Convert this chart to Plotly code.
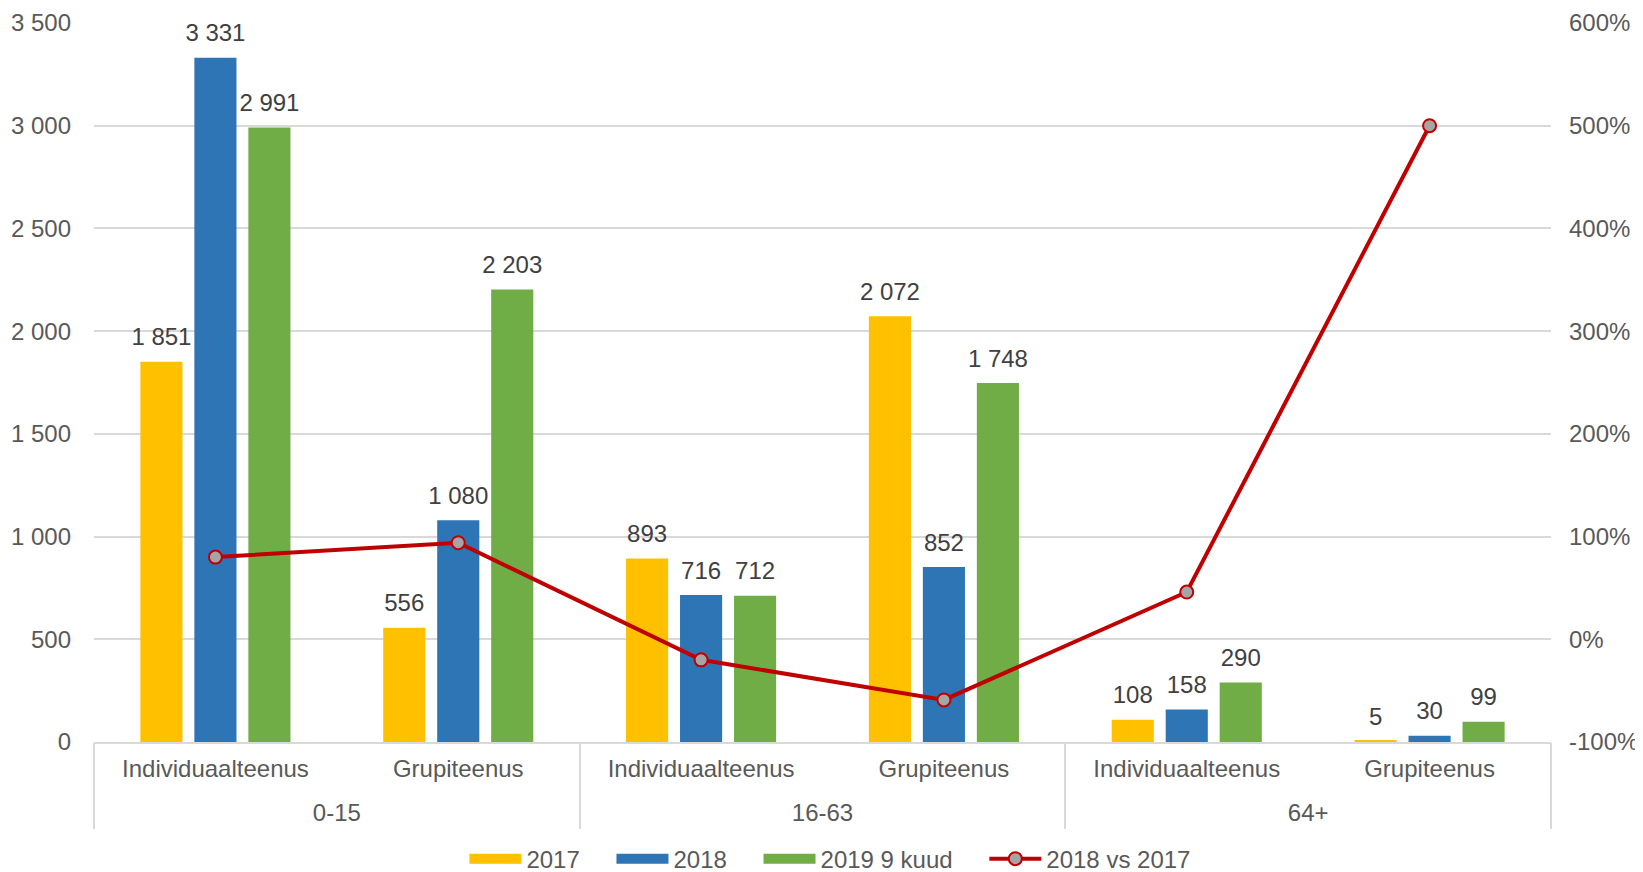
import plotly.graph_objects as go

age_groups = ["0-15", "0-15", "16-63", "16-63", "64+", "64+"]
services = ["Individuaalteenus", "Grupiteenus"] * 3
group_names = ["0-15", "16-63", "64+"]

y2017 = [1851, 556, 893, 2072, 108, 5]
y2018 = [3331, 1080, 716, 852, 158, 30]
y2019 = [2991, 2203, 712, 1748, 290, 99]
change_18_vs_17 = [0.80, 0.94, -0.20, -0.59, 0.46, 5.00]

pct_ticks = [-1, 0, 1, 2, 3, 4, 5, 6]
pct_labels = ["-100%", "0%", "100%", "200%", "300%", "400%", "500%", "600%"]

# unique category keys, shown with the service name only
keys = [f"{a} | {s}" for a, s in zip(age_groups, services)]

font_family = "Liberation Sans, Arial, sans-serif"
tick_color = "#595959"
label_color = "#404040"
grid_color = "#D9D9D9"
fsize = 24
pad = "\u00a0" * 4  # extra room between legend entries

bar_series = [
    ("2017", y2017, "#FFC000"),
    ("2018", y2018, "#2E75B6"),
    ("2019 9 kuud", y2019, "#70AD47"),
]

fig = go.Figure()

for name, vals, color in bar_series:
    fig.add_trace(go.Bar(
        x=keys, y=vals, name=name, showlegend=False,
        marker=dict(color=color, line=dict(width=0)),
    ))

# value labels: grouped scatter text sitting a bit above each bar
for name, vals, color in bar_series:
    fig.add_trace(go.Scatter(
        x=keys, y=vals, mode="markers+text", orientation="v",
        texttemplate="%{y:,.0f}", textposition="top center",
        textfont=dict(size=fsize, color=label_color),
        marker=dict(size=15, color="rgba(0,0,0,0)"),
        showlegend=False, hoverinfo="skip", cliponaxis=False,
    ))

# legend entries drawn as wide rectangles like the original
for name, vals, color in bar_series:
    fig.add_trace(go.Scatter(
        x=[None], y=[None], name=name + pad, mode="lines", orientation="h",
        line=dict(color=color, width=12),
    ))

fig.add_trace(go.Scatter(
    x=keys, y=change_18_vs_17, name="2018 vs 2017", yaxis="y2",
    mode="lines+markers",
    line=dict(color="#C00000", width=4),
    marker=dict(size=13, color="#A5A5A5", line=dict(color="#C00000", width=2)),
))

# carrier for the age-group axis below the service labels
fig.add_trace(go.Scatter(
    x=group_names, y=[None] * len(group_names), xaxis="x2",
    showlegend=False, hoverinfo="skip",
))

fig.update_layout(
    width=1635, height=864,
    margin=dict(l=86, r=92, t=15, b=130, autoexpand=False),
    paper_bgcolor="white", plot_bgcolor="white",
    font=dict(family=font_family, size=fsize, color=tick_color),
    separators=". ",
    barmode="group", bargap=0.333, bargroupgap=0.22,
    scattermode="group", scattergap=0.333,
    showlegend=True,
    legend=dict(orientation="h", xref="container", x=0.503, xanchor="center",
                yref="container", y=0.015, yanchor="middle",
                font=dict(size=fsize, color=tick_color), traceorder="normal",
                itemwidth=52),
    xaxis=dict(type="category", range=[-0.5, 5.5],
               tickmode="array", tickvals=keys, ticktext=services,
               showline=True, linecolor=grid_color, linewidth=1.5,
               showgrid=False, ticks="", ticklabelstandoff=4,
               tickfont=dict(size=fsize, color=tick_color), automargin=False),
    xaxis2=dict(type="category", overlaying="x", side="bottom", anchor="y",
                range=[-0.5, 2.5], tickson="boundaries", ticks="outside",
                ticklen=86, tickwidth=1.5, tickcolor=grid_color,
                showline=False, showgrid=False, ticklabelstandoff=54,
                tickfont=dict(size=fsize, color=tick_color), automargin=False),
    yaxis=dict(range=[0, 3500], dtick=500, tickformat=",d", showgrid=True,
               gridcolor=grid_color, gridwidth=1.5, zeroline=False, automargin=False,
               ticklabelstandoff=22,
               tickfont=dict(size=fsize, color=tick_color)),
    yaxis2=dict(overlaying="y", side="right", range=[-1, 6],
                tickmode="array", tickvals=pct_ticks, ticktext=pct_labels,
                showgrid=False, zeroline=False, automargin=False,
                ticklabelstandoff=17,
                tickfont=dict(size=fsize, color=tick_color)),
)

fig.write_html("out.html")
